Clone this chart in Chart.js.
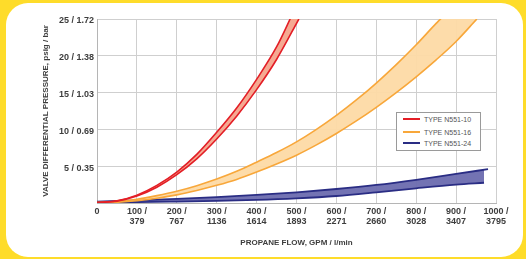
<!DOCTYPE html>
<html><head><meta charset="utf-8">
<script src="https://cdn.jsdelivr.net/npm/chart.js@4.4.1/dist/chart.umd.min.js"></script>
<style>
html,body{margin:0;padding:0;width:526px;height:259px;overflow:hidden;background:#FEDC2A;}
#panel{position:absolute;left:6px;top:3px;width:517px;height:254px;background:#fff;border-radius:22px;}
#wrap{position:absolute;left:0;top:0;width:526px;height:259px;}
#legend{position:absolute;left:396px;top:112px;width:85px;height:39px;border:1.5px solid #9a9a9a;background:#fff;box-sizing:border-box;font-family:"Liberation Sans",Arial,sans-serif;font-size:7px;color:#555;}
.row{position:absolute;left:6px;height:10px;line-height:10px;white-space:nowrap;}
.sw{display:inline-block;width:17px;height:2px;vertical-align:middle;margin-right:4px;position:relative;top:-1px;}
</style></head>
<body>
<div id="panel"></div>
<div id="wrap"><canvas id="c" width="526" height="259"></canvas></div>
<div id="legend"></div>
<script>
// ---- data ----
const gpmTicks = [0,100,200,300,400,500,600,700,800,900,1000];
const lpmTicks = ['', '379','767','1136','1614','1893','2271','2660','3028','3407','3795'];
const psigTicks = [0,5,10,15,20,25];
const barTicks  = ['', '0.35','0.69','1.03','1.38','1.72'];
const seriesNames = ['TYPE N551-10','TYPE N551-16','TYPE N551-24'];

// TYPE N551-10 (band: high / low)
const n10FlowHigh = [0,50,100,150,200,250,300,350,400,450,484,506];
const n10PsiHigh  = [0.05,0.3,1.07,2.4,4.2,6.6,9.6,12.9,16.8,21.2,25,27.6];
const n10FlowLow  = [0,50,100,150,200,250,300,350,400,450,506];
const n10PsiLow   = [0.05,0.25,0.95,2.15,3.85,6.0,8.7,11.8,15.4,19.5,25];

// TYPE N551-16
const n16FlowHigh = [0,50,100,150,200,250,300,350,400,450,500,550,600,650,700,750,800,850,861,952];
const n16PsiHigh  = [0.05,0.2,0.5,1.0,1.6,2.35,3.25,4.3,5.55,6.85,8.3,10.0,11.9,14.0,16.3,18.8,21.5,24.4,25,30.5];
const n16FlowLow  = [0,50,100,150,200,250,300,350,400,450,500,550,600,650,700,750,800,850,900,952];
const n16PsiLow   = [0.05,0.1,0.3,0.65,1.1,1.7,2.4,3.2,4.2,5.3,6.5,7.9,9.45,11.15,13.0,15.0,17.15,19.45,21.95,25];

// TYPE N551-24
const n24FlowHigh = [0,100,200,300,400,500,600,700,800,900,980];
const n24PsiHigh  = [0.2,0.35,0.55,0.8,1.1,1.45,1.9,2.45,3.15,3.95,4.6];
const n24FlowLow  = [0,100,200,300,400,500,600,700,800,900,970];
const n24PsiLow   = [0.1,0.12,0.2,0.3,0.42,0.63,0.95,1.45,2.0,2.5,2.75];

const lineColors = ['#E31E26','#F8A73A','#2A2D84'];
const fillColors = ['rgba(244,164,140,0.95)','rgba(253,218,165,0.95)','rgba(108,108,175,0.95)'];

function pts(xs, ys){ return xs.map((x,i)=>({x:x, y:ys[i]})); }

const bands = [
  [pts(n10FlowHigh,n10PsiHigh), pts(n10FlowLow,n10PsiLow)],
  [pts(n16FlowHigh,n16PsiHigh), pts(n16FlowLow,n16PsiLow)],
  [pts(n24FlowHigh,n24PsiHigh), pts(n24FlowLow,n24PsiLow)]
];
const datasets = [];
bands.forEach((b,i)=>{
  const common = {borderColor: lineColors[i], borderWidth: i===2?1.8:1.6, pointRadius:0,
    cubicInterpolationMode:'monotone', order: i};
  datasets.push(Object.assign({label: seriesNames[i], data: b[0], fill:false}, common));
  datasets.push(Object.assign({label: seriesNames[i]+' low', data: b[1], fill:'-1', backgroundColor: fillColors[i]}, common));
});

const tickFont = {family:'"Liberation Sans", Arial, sans-serif', weight:'bold', size:9, lineHeight:1.1};
const titleFont = {family:'"Liberation Sans", Arial, sans-serif', weight:'bold', size:8};

new Chart(document.getElementById('c'), {
  type:'line',
  data:{datasets},
  options:{
    responsive:false, animation:false,
    layout:{padding:{left:0, top:19, right:30, bottom:0}},
    plugins:{legend:{display:false}, tooltip:{enabled:false}},
    scales:{
      x:{type:'linear', min:0, max:1000,
        afterFit:(s)=>{ s.height = 56; },
        ticks:{stepSize:100, autoSkip:false, maxRotation:0, padding:4, color:'#3d3d3d', font:tickFont,
          callback:(v)=>{ const i = gpmTicks.indexOf(v); if(i<0) return ''; return i===0 ? '0' : [gpmTicks[i]+' /', lpmTicks[i]]; }},
        grid:{color:'#cfcfcf', drawTicks:false, lineWidth:1},
        border:{color:'#b5b5b5'},
        title:{display:true, text:'PROPANE FLOW, GPM / l/min', color:'#3d3d3d', font:titleFont, padding:{top:0,bottom:11}}
      },
      y:{min:0, max:25,
        afterFit:(s)=>{ s.width = 97; },
        ticks:{stepSize:5, padding:3, labelOffset:2, color:'#3d3d3d', font:tickFont,
          callback:(v)=>{ const i = psigTicks.indexOf(v); if(i<=0) return ''; return psigTicks[i]+' / '+barTicks[i]; }},
        grid:{color:'#cfcfcf', drawTicks:false, lineWidth:1},
        border:{color:'#b5b5b5'},
        title:{display:true, text:'VALVE DIFFERENTIAL PRESSURE, psig / bar', color:'#3d3d3d', font:titleFont, padding:{top:41,bottom:0}}
      }
    }
  }
});

// legend (HTML text)
const lg = document.getElementById('legend');
const rowTops = [2, 15, 26];
seriesNames.forEach((n,i)=>{
  const r = document.createElement('div');
  r.className='row'; r.style.top = rowTops[i]+'px';
  r.innerHTML = '<span class="sw" style="background:'+lineColors[i]+'"></span>'+n;
  lg.appendChild(r);
});
</script>
</body></html>
